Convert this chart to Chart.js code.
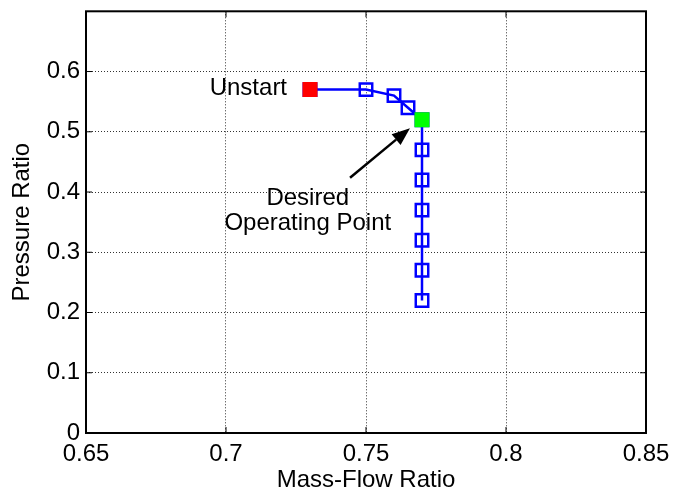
<!DOCTYPE html>
<html>
<head>
<meta charset="utf-8">
<script src="https://cdn.jsdelivr.net/npm/chart.js@4.4.1/dist/chart.umd.min.js"></script>
<style>
html,body{margin:0;padding:0;background:#fff;}
#wrap{width:673px;height:495px;position:relative;}
</style>
</head>
<body>
<div id="wrap"><canvas id="c" width="673" height="495"></canvas></div>
<script>
const massFlow = [0.73, 0.75, 0.76, 0.765, 0.77, 0.77, 0.77, 0.77, 0.77, 0.77, 0.77];
const pressure = [0.57, 0.57, 0.56, 0.54, 0.52, 0.47, 0.42, 0.37, 0.32, 0.27, 0.22];
const unstartPoint = [0.73, 0.57];
const desiredPoint = [0.77, 0.52];
const xTicks = [0.65, 0.7, 0.75, 0.8, 0.85];
const yTicks = [0, 0.1, 0.2, 0.3, 0.4, 0.5, 0.6];
const xRange = [0.65, 0.85];
const yRange = [0, 0.7];
const labelUnstart = ['Unstart', 0.7218, 0.5725];
const labelDesired = [['Desired', 'Operating Point'], 0.7292, 0.3895, 0.348];
const arrowFrom = [0.7443, 0.4236];
const arrowTo = [0.7657, 0.506];

const FONT = '"Liberation Sans", Arial, sans-serif';

const linePts = massFlow.map((x, i) => ({x: x, y: pressure[i]}));

const annot = {
  id: 'annot',
  afterDatasetsDraw(chart) {
    const {ctx, chartArea: a, scales: {x, y}} = chart;
    ctx.save();
    // box
    ctx.strokeStyle = '#000';
    ctx.lineWidth = 2;
    ctx.strokeRect(a.left, a.top, a.right - a.left, a.bottom - a.top);
    // inward ticks
    ctx.lineWidth = 1;
    xTicks.forEach(v => {
      const px = x.getPixelForValue(v);
      ctx.beginPath(); ctx.moveTo(px, a.bottom); ctx.lineTo(px, a.bottom - 6);
      ctx.moveTo(px, a.top); ctx.lineTo(px, a.top + 6); ctx.stroke();
    });
    yTicks.forEach(v => {
      const py = y.getPixelForValue(v);
      ctx.beginPath(); ctx.moveTo(a.left, py); ctx.lineTo(a.left + 6, py);
      ctx.moveTo(a.right, py); ctx.lineTo(a.right - 6, py); ctx.stroke();
    });
    // texts
    ctx.fillStyle = '#000';
    ctx.font = '24px ' + FONT;
    ctx.textAlign = 'right';
    ctx.textBaseline = 'middle';
    ctx.fillText(labelUnstart[0], x.getPixelForValue(labelUnstart[1]), y.getPixelForValue(labelUnstart[2]));
    ctx.textAlign = 'center';
    ctx.fillText(labelDesired[0][0], x.getPixelForValue(labelDesired[1]), y.getPixelForValue(labelDesired[2]));
    ctx.fillText(labelDesired[0][1], x.getPixelForValue(labelDesired[1]), y.getPixelForValue(labelDesired[3]));
    // arrow
    const x0 = x.getPixelForValue(arrowFrom[0]), y0 = y.getPixelForValue(arrowFrom[1]);
    const x1 = x.getPixelForValue(arrowTo[0]), y1 = y.getPixelForValue(arrowTo[1]);
    const ang = Math.atan2(y1 - y0, x1 - x0);
    const L = 18, W = 7;
    const bx = x1 - L * Math.cos(ang), by = y1 - L * Math.sin(ang);
    ctx.strokeStyle = '#000';
    ctx.lineWidth = 2.5;
    ctx.beginPath(); ctx.moveTo(x0, y0); ctx.lineTo(bx, by); ctx.stroke();
    ctx.beginPath();
    ctx.moveTo(x1, y1);
    ctx.lineTo(bx + W * Math.sin(ang), by - W * Math.cos(ang));
    ctx.lineTo(bx - W * Math.sin(ang), by + W * Math.cos(ang));
    ctx.closePath(); ctx.fill();
    ctx.restore();
  }
};

new Chart(document.getElementById('c'), {
  type: 'scatter',
  data: {
    datasets: [
      {
        data: linePts,
        showLine: true,
        borderColor: '#0000ff',
        borderWidth: 2.5,
        pointStyle: 'rect',
        pointRadius: 8.8,
        pointBorderWidth: 2.5,
        pointBorderColor: '#0000ff',
        pointBackgroundColor: 'rgba(0,0,0,0)',
        order: 2
      },
      {
        data: [{x: unstartPoint[0], y: unstartPoint[1]}],
        pointStyle: 'rect',
        pointRadius: 10.6,
        pointBorderWidth: 0,
        pointBackgroundColor: '#ff0000',
        pointBorderColor: '#ff0000',
        order: 1
      },
      {
        data: [{x: desiredPoint[0], y: desiredPoint[1]}],
        pointStyle: 'rect',
        pointRadius: 10.6,
        pointBorderWidth: 0,
        pointBackgroundColor: '#00ff00',
        pointBorderColor: '#00ff00',
        order: 0
      }
    ]
  },
  options: {
    responsive: false,
    animation: false,
    layout: {padding: {top: 9, right: 27, left: 0, bottom: 0}},
    plugins: {legend: {display: false}, tooltip: {enabled: false}},
    scales: {
      x: {
        type: 'linear', min: xRange[0], max: xRange[1],
        afterBuildTicks: s => { s.ticks = xTicks.map(v => ({value: v})); },
        afterFit: s => { s.height = 62; s.paddingLeft = 0; s.paddingRight = 0; },
        border: {display: false, dash: [1, 2]},
        grid: {color: '#333', lineWidth: 1, tickLength: 0, drawTicks: false},
        ticks: {color: '#000', font: {size: 24, family: FONT}, padding: 7,
                maxRotation: 0, autoSkip: false,
                callback: v => String(v)},
        title: {display: true, text: 'Mass-Flow Ratio', color: '#000',
                font: {size: 24, family: FONT}, padding: {top: 5, bottom: 0}}
      },
      y: {
        type: 'linear', min: yRange[0], max: yRange[1],
        afterBuildTicks: s => { s.ticks = yTicks.map(v => ({value: v})); },
        afterFit: s => { s.width = 86; s.paddingTop = 0; s.paddingBottom = 0; },
        border: {display: false, dash: [1, 2]},
        grid: {color: '#333', lineWidth: 1, tickLength: 0, drawTicks: false},
        ticks: {color: '#000', font: {size: 24, family: FONT}, padding: 6,
                autoSkip: false,
                callback: v => String(Math.round(v * 10) / 10)},
        title: {display: true, text: 'Pressure Ratio', color: '#000',
                font: {size: 24, family: FONT}, padding: {top: 8, bottom: 0}}
      }
    }
  },
  plugins: [annot]
});
</script>
</body>
</html>
